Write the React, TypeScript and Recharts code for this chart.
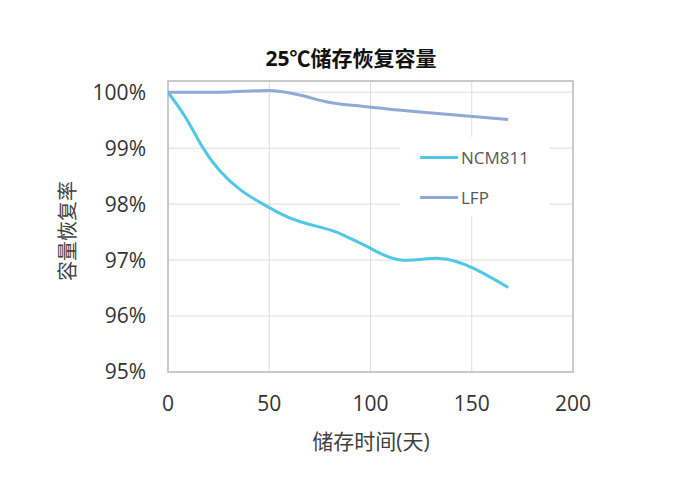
import {
  LineChart,
  Line,
  XAxis,
  YAxis,
  CartesianGrid,
  ReferenceArea,
} from "recharts";

// 储存天数 / 容量恢复率 (%)
const ncmDays = [0, 9, 17, 26, 36, 45, 55, 65, 80, 88, 100, 115, 134, 151, 168];
const ncmValues = [100, 99.53, 99.02, 98.58, 98.25, 98.04, 97.84, 97.69, 97.54, 97.42, 97.21, 97.0, 97.03, 96.85, 96.51];

const lfpDays = [0, 25, 50, 65, 78, 98, 123, 149, 168];
const lfpValues = [100, 100.0, 100.03, 99.95, 99.83, 99.74, 99.65, 99.57, 99.51];

const xTicks = [0, 50, 100, 150, 200];
const yTicks = [95, 96, 97, 98, 99, 100];

const NCM_COLOR = "#4FC7E5";
const LFP_COLOR = "#8FAAD6";
const FONT = '"Open Sans", "Noto Sans CJK SC", sans-serif';

const ncmData = ncmDays.map((d, i) => ({ day: d, value: ncmValues[i] }));
const lfpData = lfpDays.map((d, i) => ({ day: d, value: lfpValues[i] }));

const series = [
  { name: "NCM811", color: NCM_COLOR },
  { name: "LFP", color: LFP_COLOR },
];

export default function App() {
  return (
    <div style={{ position: "relative", width: 680, height: 483 }}>
      <div
        style={{
          position: "absolute",
          left: 343,
          top: 49,
          transform: "translate(-50%, -50%)",
          fontFamily: FONT,
          fontWeight: 700,
          fontSize: 21,
          color: "#111",
          whiteSpace: "nowrap",
        }}
      >
        25℃储存恢复容量
      </div>
      <div
        style={{
          position: "absolute",
          left: 58,
          top: 223,
          transform: "translate(-50%, -50%) rotate(-90deg)",
          fontFamily: FONT,
          fontSize: 20,
          color: "#404040",
          whiteSpace: "nowrap",
        }}
      >
        容量恢复率
      </div>
      <div
        style={{
          position: "absolute",
          left: 363,
          top: 432,
          transform: "translate(-50%, -50%)",
          fontFamily: FONT,
          fontSize: 21,
          color: "#404040",
          whiteSpace: "nowrap",
        }}
      >
        储存时间(天)
      </div>
      <LineChart
        width={680}
        height={483}
        margin={{ top: 73, right: 115, bottom: 79, left: 80 }}
        style={{ position: "absolute", left: 0, top: 0 }}
      >
        <CartesianGrid stroke="#dcdcdc" strokeWidth={1} />
        <XAxis
          type="number"
          dataKey="day"
          domain={[0, 200]}
          ticks={xTicks}
          height={40}
          axisLine={false}
          tickLine={false}
          tickSize={0}
          tickMargin={24}
          tick={{ fontSize: 21, fill: "#333", fontFamily: FONT }}
          allowDataOverflow
        />
        <YAxis
          type="number"
          domain={[95, 100.2]}
          ticks={yTicks}
          width={80}
          axisLine={false}
          tickLine={false}
          tickSize={0}
          tickMargin={22}
          tick={{ fontSize: 21, fill: "#333", fontFamily: FONT }}
          tickFormatter={(v: number) => `${v}%`}
          allowDataOverflow
        />
        <ReferenceArea x1={0} x2={200} y1={95} y2={100.2} fill="none" stroke="#bfbfbf" strokeWidth={1.5} />
        <Line
          data={ncmData}
          dataKey="value"
          name="NCM811"
          type="natural"
          stroke={NCM_COLOR}
          strokeWidth={3}
          dot={false}
          isAnimationActive={false}
        />
        <Line
          data={lfpData}
          dataKey="value"
          name="LFP"
          type="monotone"
          stroke={LFP_COLOR}
          strokeWidth={3}
          dot={false}
          isAnimationActive={false}
        />
      </LineChart>
      {/* legend box, white background over the grid */}
      <div
        style={{
          position: "absolute",
          left: 392,
          top: 129,
          width: 150,
          height: 79,
          background: "#fff",
          fontFamily: FONT,
        }}
      >
        {series.map((s, i) => (
          <div
            key={s.name}
            style={{
              position: "absolute",
              left: 20,
              top: 8 + i * 40,
              display: "flex",
              alignItems: "center",
              height: 24,
            }}
          >
            <span style={{ display: "inline-block", width: 38, height: 3, background: s.color }} />
            <span style={{ marginLeft: 3, fontSize: 17, color: "#595959" }}>{s.name}</span>
          </div>
        ))}
      </div>
    </div>
  );
}
